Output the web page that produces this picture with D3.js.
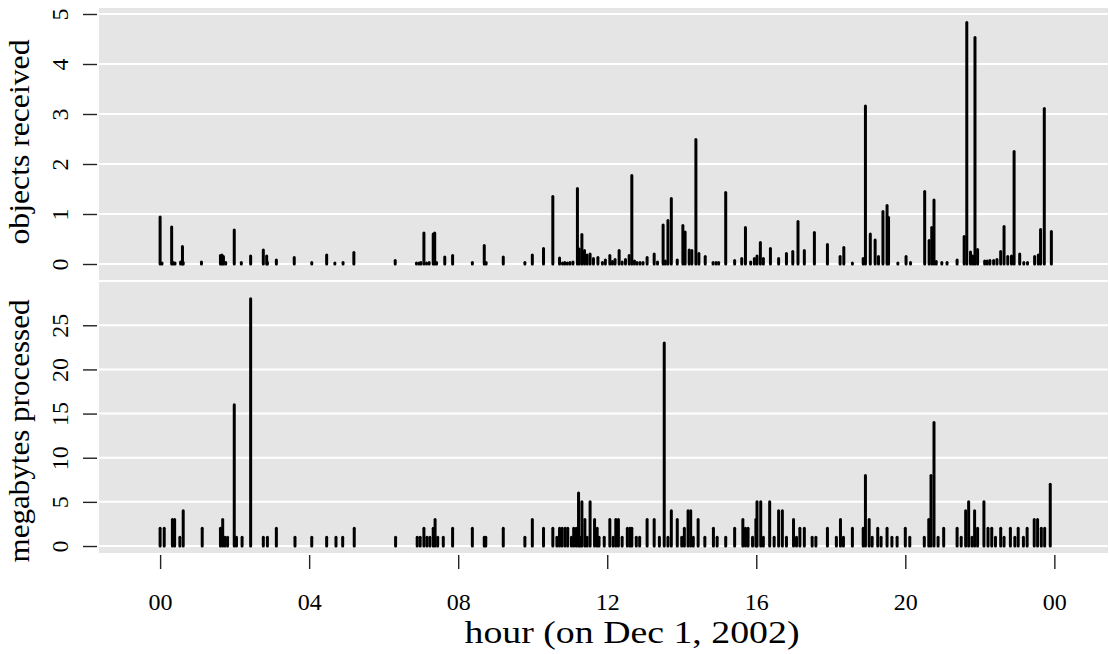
<!DOCTYPE html>
<html lang="en">
<head>
<meta charset="utf-8">
<title>objects received and megabytes processed by hour</title>
<script src="https://cdn.jsdelivr.net/npm/d3@7/dist/d3.min.js"></script>
<style>
  body { margin: 0; background: #ffffff; }
  svg text { font-family: "Liberation Serif", "Times New Roman", serif; fill: #000; }
</style>
</head>
<body>
<script>

// objects received (top panel): hour of day and value
var objHours = [0.00, 0.05, 0.31, 0.35, 0.40, 0.55, 0.60, 0.62, 1.11, 1.62, 1.66, 1.70, 1.76, 1.99, 2.18,
  2.43, 2.77, 2.86, 2.88, 3.12, 3.60, 4.07, 4.47, 4.69, 4.91, 5.20, 6.31, 6.88, 6.95, 7.00, 7.08, 7.15, 7.22,
  7.33, 7.37, 7.42, 7.64, 7.85, 8.38, 8.70, 8.75, 9.21, 9.79, 9.99, 10.29, 10.54, 10.72, 10.80, 10.86, 10.93,
  11.00, 11.08, 11.20, 11.25, 11.32, 11.39, 11.46, 11.54, 11.63, 11.75, 11.87, 11.95, 12.07, 12.14, 12.21,
  12.32, 12.40, 12.49, 12.59, 12.66, 12.73, 12.80, 12.88, 12.96, 13.07, 13.26, 13.35, 13.50, 13.56, 13.63,
  13.72, 13.88, 14.03, 14.09, 14.20, 14.27, 14.38, 14.46, 14.63, 14.84, 14.92, 14.99, 15.18, 15.42, 15.61,
  15.71, 15.85, 15.95, 16.02, 16.11, 16.19, 16.38, 16.60, 16.81, 16.98, 17.12, 17.29, 17.56, 17.91, 18.25,
  18.35, 18.58, 18.87, 18.93, 19.06, 19.19, 19.28, 19.40, 19.51, 19.55, 19.80, 20.02, 20.14, 20.52, 20.64,
  20.71, 20.77, 20.83, 20.98, 21.12, 21.39, 21.58, 21.65, 21.75, 21.81, 21.87, 21.94, 22.13, 22.20, 22.27,
  22.37, 22.46, 22.56, 22.65, 22.75, 22.85, 22.92, 23.07, 23.18, 23.28, 23.47, 23.57, 23.63, 23.73, 23.92];
var objValues = [0.94, 0.02, 0.74, 0.03, 0.02, 0.04, 0.35, 0.03, 0.04, 0.17, 0.18, 0.15, 0.03, 0.68, 0.03,
  0.16, 0.28, 0.16, 0.03, 0.08, 0.13, 0.03, 0.18, 0.02, 0.03, 0.23, 0.07, 0.02, 0.02, 0.03, 0.62, 0.02, 0.03,
  0.60, 0.62, 0.03, 0.14, 0.17, 0.03, 0.37, 0.03, 0.14, 0.03, 0.18, 0.31, 1.35, 0.12, 0.02, 0.03, 0.02,
  0.03, 0.04, 1.51, 0.30, 0.59, 0.27, 0.18, 0.20, 0.11, 0.13, 0.03, 0.08, 0.17, 0.05, 0.09,
  0.27, 0.04, 0.09, 0.17, 1.77, 0.06, 0.03, 0.03, 0.03, 0.13, 0.20, 0.04, 0.78, 0.06, 0.87,
  1.31, 0.08, 0.77, 0.64, 0.28, 0.27, 2.49, 0.21, 0.15, 0.03, 0.03, 0.03, 1.43, 0.07, 0.11,
  0.73, 0.04, 0.11, 0.16, 0.43, 0.11, 0.31, 0.11, 0.21, 0.25, 0.85, 0.27, 0.63, 0.39, 0.15,
  0.33, 0.02, 0.11, 3.16, 0.60, 0.48, 0.15, 1.05, 1.17, 0.93, 0.02, 0.15, 0.03, 1.45, 0.47,
  0.73, 1.28, 0.05, 0.03, 0.03, 0.08, 0.55, 4.83, 0.24, 0.16, 4.53, 0.29, 0.06, 0.06, 0.07,
  0.07, 0.09, 0.25, 0.75, 0.15, 0.16, 2.25, 0.20, 0.03, 0.03, 0.15, 0.18, 0.69, 3.11, 0.65];

// megabytes processed (bottom panel): hour of day and value
var mbHours = [0.00, 0.11, 0.33, 0.39, 0.53, 0.62, 1.13, 1.62, 1.68, 1.74, 1.81, 1.99, 2.05, 2.20, 2.43,
  2.77, 2.88, 3.12, 3.62, 4.07, 4.47, 4.72, 4.90, 5.21, 6.32, 6.90, 6.98, 7.08, 7.16, 7.24, 7.33, 7.38, 7.45,
  7.60, 7.85, 8.38, 8.70, 8.74, 9.21, 9.79, 9.99, 10.29, 10.54, 10.65, 10.72, 10.79, 10.87, 10.94, 11.04,
  11.10, 11.17, 11.23, 11.27, 11.32, 11.40, 11.46, 11.54, 11.66, 11.73, 11.78, 11.92, 12.07, 12.16, 12.23,
  12.30, 12.40, 12.54, 12.61, 12.66, 12.78, 12.87, 13.07, 13.26, 13.40, 13.53, 13.63, 13.72, 13.88, 14.00,
  14.07, 14.17, 14.24, 14.31, 14.44, 14.62, 14.85, 14.95, 15.18, 15.42, 15.64, 15.71, 15.78, 15.90, 15.99,
  16.02, 16.12, 16.19, 16.36, 16.48, 16.60, 16.70, 16.81, 17.00, 17.08, 17.17, 17.29, 17.50, 17.60, 17.91,
  18.15, 18.26, 18.34, 18.58, 18.87, 18.93, 19.03, 19.11, 19.26, 19.35, 19.51, 19.64, 19.78, 20.00, 20.12,
  20.51, 20.63, 20.69, 20.77, 20.88, 21.03, 21.39, 21.50, 21.62, 21.70, 21.79, 21.86, 21.94, 22.11, 22.22,
  22.32, 22.42, 22.56, 22.65, 22.82, 22.94, 23.03, 23.17, 23.27, 23.46, 23.55, 23.65, 23.74, 23.89];
var mbValues = [2, 2, 3, 3, 1, 4, 2, 2, 3, 1, 1, 16, 1, 1, 28,
  1, 1, 2, 1, 1, 1, 1, 1, 2, 1, 1, 1, 2, 1, 1, 2, 3, 1,
  1, 2, 2, 1, 1, 2, 1, 3, 2, 2, 1, 2, 2, 2, 2, 1,
  2, 2, 6, 1, 5, 3, 1, 5, 3, 2, 1, 1, 3, 1, 3,
  3, 1, 2, 2, 2, 1, 1, 3, 3, 1, 23, 1, 4, 3, 1,
  2, 4, 4, 1, 3, 1, 2, 1, 1, 2, 3, 2, 2, 1, 3,
  5, 5, 1, 5, 1, 4, 4, 1, 3, 1, 2, 2, 1, 1, 2,
  1, 3, 1, 2, 2, 8, 3, 1, 2, 1, 2, 1, 1, 2, 1,
  1, 3, 8, 14, 1, 2, 2, 1, 4, 5, 1, 4, 2, 5, 2,
  2, 1, 2, 1, 2, 1, 2, 1, 2, 3, 3, 2, 2, 7];

var hourTicks = [0, 4, 8, 12, 16, 20, 24];
var hourLabels = ["00", "04", "08", "12", "16", "20", "00"];
var objTicks = [0, 1, 2, 3, 4, 5];
var mbTicks = [0, 5, 10, 15, 20, 25];

var w = 1109, h = 654;
var left = 99, right = 1108;

var svg = d3.select("body").append("svg")
  .attr("width", w)
  .attr("height", h);

var x = d3.scaleLinear().domain([-1.64, 25.44]).range([left, right]);

var panels = [
  { title: "objects received", hours: objHours, values: objValues, ticks: objTicks,
    titleY: 142, titleLen: 205,
    y: d3.scaleLinear().domain([-0.32, 5.12]).range([280, 8]) },
  { title: "megabytes processed", hours: mbHours, values: mbValues, ticks: mbTicks,
    titleY: 431, titleLen: 263,
    y: d3.scaleLinear().domain([-0.79, 29.9]).range([553, 282]) }
];

panels.forEach(function(p) {
  var y = p.y;
  var top = y.range()[1], bottom = y.range()[0];

  // grey panel
  svg.append("rect")
    .attr("x", left).attr("y", top)
    .attr("width", right - left).attr("height", bottom - top)
    .attr("fill", "#e5e5e5");

  // white horizontal grid
  svg.append("g").selectAll("line")
    .data(p.ticks)
    .enter().append("line")
    .attr("x1", left).attr("x2", right)
    .attr("y1", function(d) { return y(d); })
    .attr("y2", function(d) { return y(d); })
    .attr("stroke", "#ffffff")
    .attr("stroke-width", 2);

  // spikes
  svg.append("g").selectAll("line")
    .data(p.values)
    .enter().append("line")
    .attr("x1", function(d, i) { return x(p.hours[i]); })
    .attr("x2", function(d, i) { return x(p.hours[i]); })
    .attr("y1", y(0))
    .attr("y2", function(d) { return y(d); })
    .attr("stroke", "#000000")
    .attr("stroke-width", 3)
    .attr("stroke-linecap", "round");

  // y axis: ticks only, labels turned along the axis
  var ax = svg.append("g")
    .attr("transform", "translate(97,0)")
    .call(d3.axisLeft(y).tickValues(p.ticks).tickSize(14).tickFormat(d3.format("d")));
  ax.select(".domain").remove();
  ax.selectAll(".tick line").attr("stroke", "#222").attr("stroke-width", 1.4);
  ax.selectAll(".tick text")
    .attr("transform", "rotate(-90)")
    .attr("x", 0).attr("y", -29).attr("dy", 0)
    .attr("text-anchor", "middle")
    .style("font-size", "24px");

  svg.append("text")
    .attr("transform", "translate(29," + p.titleY + ") rotate(-90)")
    .attr("text-anchor", "middle")
    .attr("textLength", p.titleLen)
    .attr("lengthAdjust", "spacingAndGlyphs")
    .style("font-size", "30px")
    .text(p.title);
});

// x axis below the lower panel
var xa = svg.append("g")
  .attr("transform", "translate(0,555)")
  .call(d3.axisBottom(x).tickValues(hourTicks).tickSize(14)
    .tickFormat(function(d, i) { return hourLabels[i]; }));
xa.select(".domain").remove();
xa.selectAll(".tick line").attr("stroke", "#222").attr("stroke-width", 1.4);
xa.selectAll(".tick text")
  .attr("y", 55).attr("dy", 0)
  .style("font-size", "24px");

svg.append("text")
  .attr("x", 632).attr("y", 643)
  .attr("text-anchor", "middle")
  .attr("textLength", 335)
  .attr("lengthAdjust", "spacingAndGlyphs")
  .style("font-size", "32px")
  .text("hour (on Dec 1, 2002)");

</script>
</body>
</html>
